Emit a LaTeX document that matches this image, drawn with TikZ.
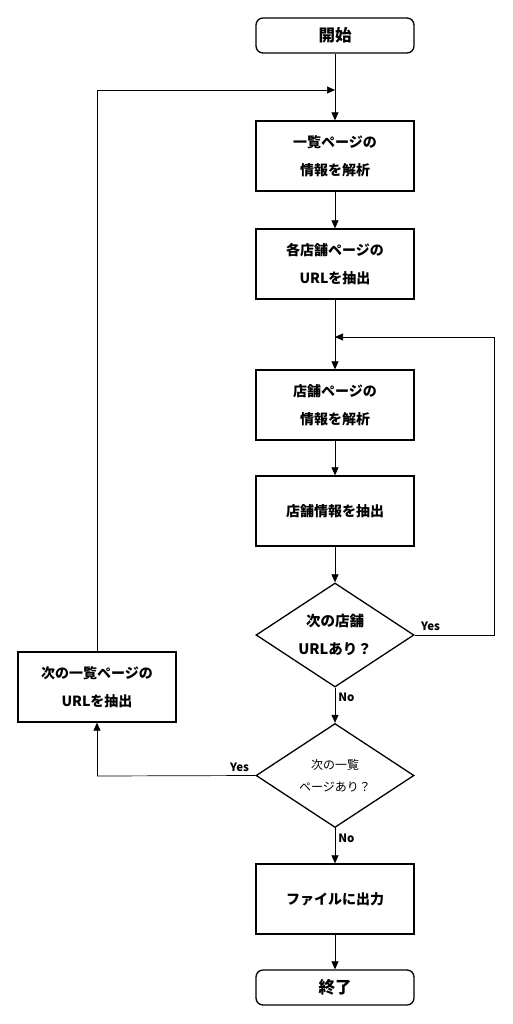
\documentclass[tikz,border=0pt]{standalone}
\usepackage{fontspec}
\setmainfont{Noto Sans CJK JP}
\usetikzlibrary{shapes.geometric,arrows.meta}
\begin{document}
\begin{tikzpicture}[x=1pt,y=-1pt,
  box/.style={draw,line width=1.3pt,minimum width=158pt,minimum height=70pt,inner sep=0pt,font=\fontsize{14}{28}\selectfont\bfseries,align=center},
  term/.style={draw,line width=1.3pt,rounded corners=7pt,minimum width=158pt,minimum height=35pt,inner sep=0pt,font=\fontsize{16.5}{18}\selectfont\bfseries},
  dia/.style={draw,line width=1.3pt,diamond,minimum width=158pt,minimum height=104pt,inner sep=0pt,aspect=1.52,align=center},
  conn/.style={line width=0.7pt,-{Triangle[length=8pt,width=7pt]}},
  line/.style={line width=0.7pt},
  lbl/.style={font=\fontsize{11.5}{12}\selectfont\bfseries,inner sep=0pt}]
\useasboundingbox (0,0) rectangle (512,1024);
\node[term] (start) at (335,35.5) {開始};
\node[box] (b1) at (335,156) {一覧ページの\\情報を解析};
\node[box] (b2) at (335,264) {各店舗ページの\\URLを抽出};
\node[box] (b3) at (335,405) {店舗ページの\\情報を解析};
\node[box] (b4) at (335,511) {店舗情報を抽出};
\node[dia,font=\fontsize{14.5}{28}\selectfont\bfseries] (d1) at (335,635) {次の店舗\\URLあり？};
\node[dia,font=\fontsize{12}{22}\selectfont] (d2) at (335,775.5) {次の一覧\\ページあり？};
\node[box] (bl) at (97,687) {次の一覧ページの\\URLを抽出};
\node[box] (b5) at (335,899) {ファイルに出力};
\node[term] (end) at (335,987.5) {終了};
\coordinate (m1) at (335,90);
\coordinate (m2) at (335,337);
\coordinate (r1) at (494,635);
\coordinate (r2) at (494,337);
\coordinate (l1) at (97,776);
\coordinate (l2) at (97,90);
\draw[line] (start) -- (m1);
\draw[conn] (m1) -- (b1);
\draw[conn] (b1) -- (b2);
\draw[line] (b2) -- (m2);
\draw[conn] (m2) -- (b3);
\draw[conn] (b3) -- (b4);
\draw[conn] (b4) -- (d1);
\draw[conn] (d1) -- node[lbl,pos=0.28,right=3pt]{No} (d2);
\draw[conn] (d2) -- node[lbl,pos=0.28,right=3pt]{No} (b5);
\draw[conn] (b5) -- (end);
\draw[line] (d1.east) -- node[lbl,pos=0.2,above=4pt]{Yes} (r1) -- (r2);
\draw[conn] (r2) -- (m2);
\draw[line] (d2.west) -- node[lbl,pos=0.1,above=4pt]{Yes} (l1);
\draw[conn] (l1) -- (bl.south);
\draw[line] (bl.north) -- (l2);
\draw[conn] (l2) -- (m1);
\end{tikzpicture}
\end{document}
